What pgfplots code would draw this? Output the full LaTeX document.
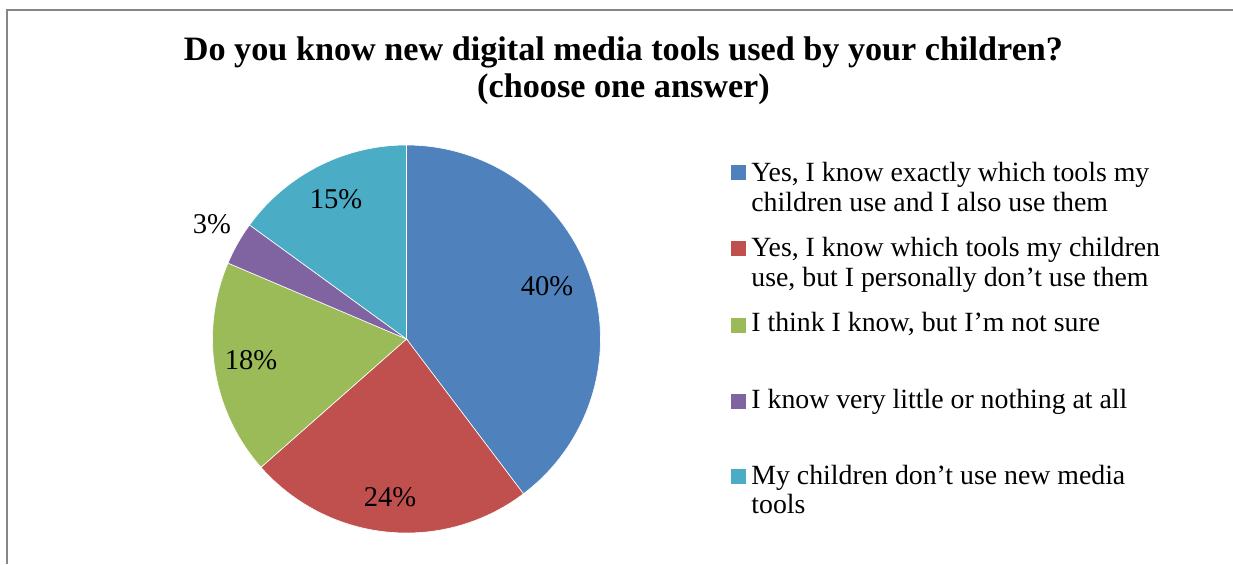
\documentclass[border=0pt]{standalone}
\usepackage{pgfplots}
\pgfplotsset{compat=1.18}
\usepackage{pgfplotstable}
\usepackage{fontspec}
\setmainfont{Liberation Serif}
\definecolor{c1}{HTML}{4F81BD}
\definecolor{c2}{HTML}{C0504D}
\definecolor{c3}{HTML}{9BBB59}
\definecolor{c4}{HTML}{8064A2}
\definecolor{c5}{HTML}{4BACC6}
\definecolor{framegray}{HTML}{868686}

% shares (labels show them rounded)
\pgfplotstableread{
pct col
39.7 c1
23.8 c2
17.9 c3
3.6 c4
15.0 c5
}\piedata

\begin{document}
\begin{tikzpicture}
\useasboundingbox (0,0) rectangle (616.5pt,282pt);
\begin{axis}[
  at={(0,0)}, anchor=south west,
  scale only axis, width=616.5pt, height=282pt,
  xmin=0, xmax=1233, ymin=0, ymax=564, y dir=reverse,
  hide axis, clip=false,
]
\draw[framegray, line width=0.9pt] (axis cs:7,564) -- (axis cs:7,10) -- (axis cs:1233,10);

\gdef\cum{0}
\pgfplotstablegetrowsof{\piedata}
\pgfmathtruncatemacro\N{\pgfplotsretval-1}
\foreach \i in {0,...,\N}{
  \pgfplotstablegetelem{\i}{pct}\of\piedata \let\p\pgfplotsretval
  \pgfplotstablegetelem{\i}{col}\of\piedata \let\slicecol\pgfplotsretval
  \pgfmathsetmacro\aa{90-3.6*\cum}
  \pgfmathsetmacro\bb{90-3.6*(\cum+\p)}
  \edef\temp{\noexpand\addplot[fill=\slicecol, draw=white, line width=0.3pt, domain=\bb:\aa, samples=90] ({406.5+194*cos(\noexpand\x)},{339-194*sin(\noexpand\x)}) -- (axis cs:406.5,339) -- cycle;}
  \temp
  \pgfmathsetmacro\newcum{\cum+\p}
  \xdef\cum{\newcum}
}

% slice labels
\begin{scope}[every node/.style={font=\fontsize{14.3pt}{17pt}\selectfont, anchor=base, inner sep=0pt}]
\node at (axis cs:547,295) {40\%};
\node at (axis cs:390,506) {24\%};
\node at (axis cs:251,369) {18\%};
\node at (axis cs:212,233) {3\%};
\node at (axis cs:336,208) {15\%};
\end{scope}

% legend
\addplot[only marks, mark=square*, mark size=3.5pt, mark options={draw=c1, fill=c1}] coordinates {(738,172)};
\addplot[only marks, mark=square*, mark size=3.5pt, mark options={draw=c2, fill=c2}] coordinates {(738,248)};
\addplot[only marks, mark=square*, mark size=3.5pt, mark options={draw=c3, fill=c3}] coordinates {(738,325)};
\addplot[only marks, mark=square*, mark size=3.5pt, mark options={draw=c4, fill=c4}] coordinates {(738,401)};
\addplot[only marks, mark=square*, mark size=3.5pt, mark options={draw=c5, fill=c5}] coordinates {(738,476)};
\begin{scope}[every node/.style={font=\fontsize{13.9pt}{16pt}\selectfont, anchor=base west, inner sep=0pt}]
\node at (axis cs:751,181.5) {Yes, I know exactly which tools my};
\node at (axis cs:751,211) {children use and I also use them};
\node at (axis cs:751,256.5) {Yes, I know which tools my children};
\node at (axis cs:751,286.5) {use, but I personally don’t use them};
\node at (axis cs:751,331.7) {I think I know, but I’m not sure};
\node at (axis cs:751,408) {I know very little or nothing at all};
\node at (axis cs:751,484) {My children don’t use new media};
\node at (axis cs:751,513.5) {tools};
\end{scope}

% title
\begin{scope}[every node/.style={font=\bfseries\fontsize{17.1pt}{20pt}\selectfont, anchor=base, inner sep=0pt}]
\node at (axis cs:623.5,60) {Do you know new digital media tools used by your children?};
\node at (axis cs:623.5,97) {(choose one answer)};
\end{scope}
\end{axis}
\end{tikzpicture}
\end{document}
